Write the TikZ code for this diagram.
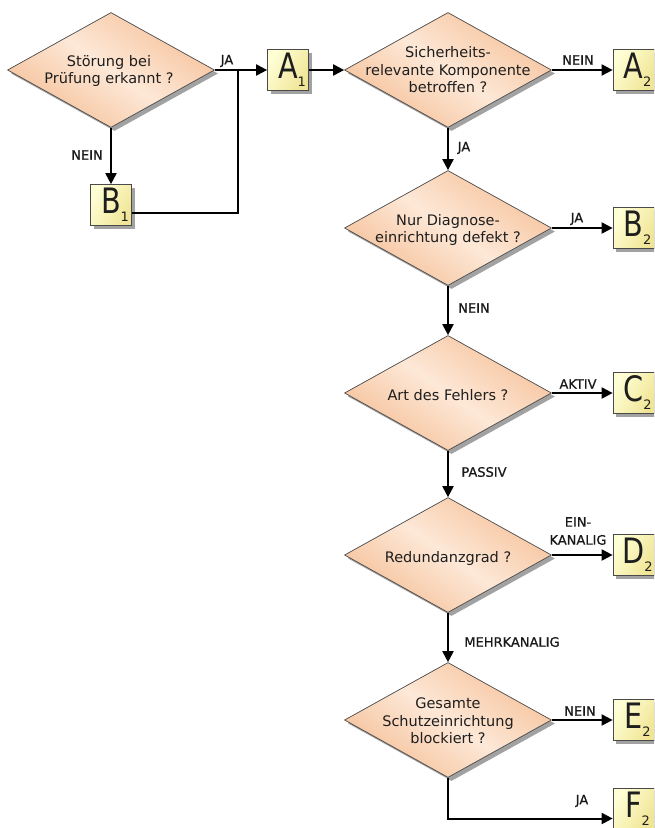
\documentclass[tikz,border=0pt]{standalone}
\usepackage{fontspec}
\usepackage{graphicx}
\setmainfont{DejaVu Sans}
\newfontfamily\labfont{DejaVu Sans}[FakeBold=0.7]
\usetikzlibrary{shapes.geometric,arrows.meta,shadows}

\definecolor{dlight}{HTML}{FDE8D7}
\definecolor{dtop}{HTML}{F6C29B}
\definecolor{dbot}{HTML}{F5C098}
\definecolor{blight}{HTML}{FFFFD6}
\definecolor{bdark}{HTML}{F0E596}
\definecolor{edgec}{HTML}{4A4A4A}
\definecolor{shadowc}{HTML}{A2A2A2}
\definecolor{txt}{HTML}{1E1E1E}

\newcommand{\bxl}[2]{\hspace*{8pt}\scalebox{0.82}[1]{\fontsize{35}{35}\selectfont #1}\raisebox{-8pt}{\fontsize{13}{13}\selectfont #2}}

\tikzset{
  dec/.style={diamond, draw=edgec, line width=0.7pt,
    minimum width=207pt, minimum height=115pt, inner sep=0pt,
    top color=dtop, bottom color=dbot, middle color=dlight, shading angle=-35,
    drop shadow={shadow xshift=3.5pt, shadow yshift=-3.5pt, fill=shadowc, opacity=1}},
  dtext/.style={align=center, font=\fontsize{14.5}{17.5}\selectfont, text=txt, inner sep=0pt},
  res/.style={rectangle, draw=edgec, line width=0.7pt,
    minimum width=41pt, minimum height=41pt, inner sep=0pt,
    left color=blight, right color=bdark, shading angle=60, text=txt,
    drop shadow={shadow xshift=3pt, shadow yshift=-3pt, fill=shadowc, opacity=1}},
  lab/.style={font=\labfont\fontsize{13}{18}\selectfont, inner sep=0pt, text=black!90, align=center},
  conn/.style={line width=2pt, -{Triangle[length=11pt,width=11pt]}},
  link/.style={line width=2pt}
}

\begin{document}
\begin{tikzpicture}[x=1pt,y=-1pt]
\clip[use as bounding box] (0,0) rectangle (654,828);
\fill[white] (0,0) rectangle (654,828);

% decisions
\node[dec] (d1) at (111,70) {};
\node[dtext] (t1) at (109,71) {Störung bei\\Prüfung erkannt ?};
\node[dec] (d2) at (448,70) {};
\node[dtext] (t2) at (448,70) {Sicherheits-\\relevante Komponente\\betroffen ?};
\node[dec] (d3) at (448,228) {};
\node[dtext] (t3) at (448,230) {Nur Diagnose-\\einrichtung defekt ?};
\node[dec] (d4) at (448,393) {};
\node[dtext] (t4) at (448,395) {Art des Fehlers ?};
\node[dec] (d5) at (448,555) {};
\node[dtext] (t5) at (448,558) {Redundanzgrad ?};
\node[dec] (d6) at (448,720) {};
\node[dtext] (t6) at (448,721) {Gesamte\\Schutzeinrichtung\\blockiert ?};

% results
\node[res] (A1) at (288,70) {\bxl{A}{1}};
\node[res] (B1) at (111,205) {\bxl{B}{1}};
\node[res] (A2) at (633.5,70) {\bxl{A}{2}};
\node[res] (B2) at (633.5,228) {\bxl{B}{2}};
\node[res] (C2) at (633.5,393) {\bxl{C}{2}};
\node[res] (D2) at (633.5,555) {\bxl{D}{2}};
\node[res] (E2) at (633.5,720) {\bxl{E}{2}};
\node[res] (F2) at (633.5,808.5) {\bxl{F}{2}};

\coordinate (j1) at (238,70);

% connectors
\draw[conn] (d1.east) -- (A1.west);
\draw[conn] (d1.south) -- (B1.north);
\draw[link] ([yshift=-8pt]B1.east) -| (j1);
\draw[conn] (A1.east) -- (d2.west);
\draw[conn] (d2.east) -- (A2.west);
\draw[conn] (d2.south) -- (d3.north);
\draw[conn] (d3.east) -- (B2.west);
\draw[conn] (d3.south) -- (d4.north);
\draw[conn] (d4.east) -- (C2.west);
\draw[conn] (d4.south) -- (d5.north);
\draw[conn] (d5.east) -- (D2.west);
\draw[conn] (d5.south) -- (d6.north);
\draw[conn] (d6.east) -- (E2.west);
\draw[conn] (d6.south) |- ([yshift=-10pt]F2.west);

% labels
\node[lab] (l1) at (227,61) {JA};
\node[lab] (l2) at (87,155) {NEIN};
\node[lab] (l3) at (578,60) {NEIN};
\node[lab] (l4) at (464,148) {JA};
\node[lab] (l5) at (577,219) {JA};
\node[lab] (l6) at (474,308) {NEIN};
\node[lab] (l7) at (578,384) {AKTIV};
\node[lab] (l8) at (484,472) {PASSIV};
\node[lab] (l9) at (578,531) {EIN-\\KANALIG};
\node[lab] (l10) at (512,642) {MEHRKANALIG};
\node[lab] (l11) at (580,711) {NEIN};
\node[lab] (l12) at (582,801) {JA};
\end{tikzpicture}
\end{document}
